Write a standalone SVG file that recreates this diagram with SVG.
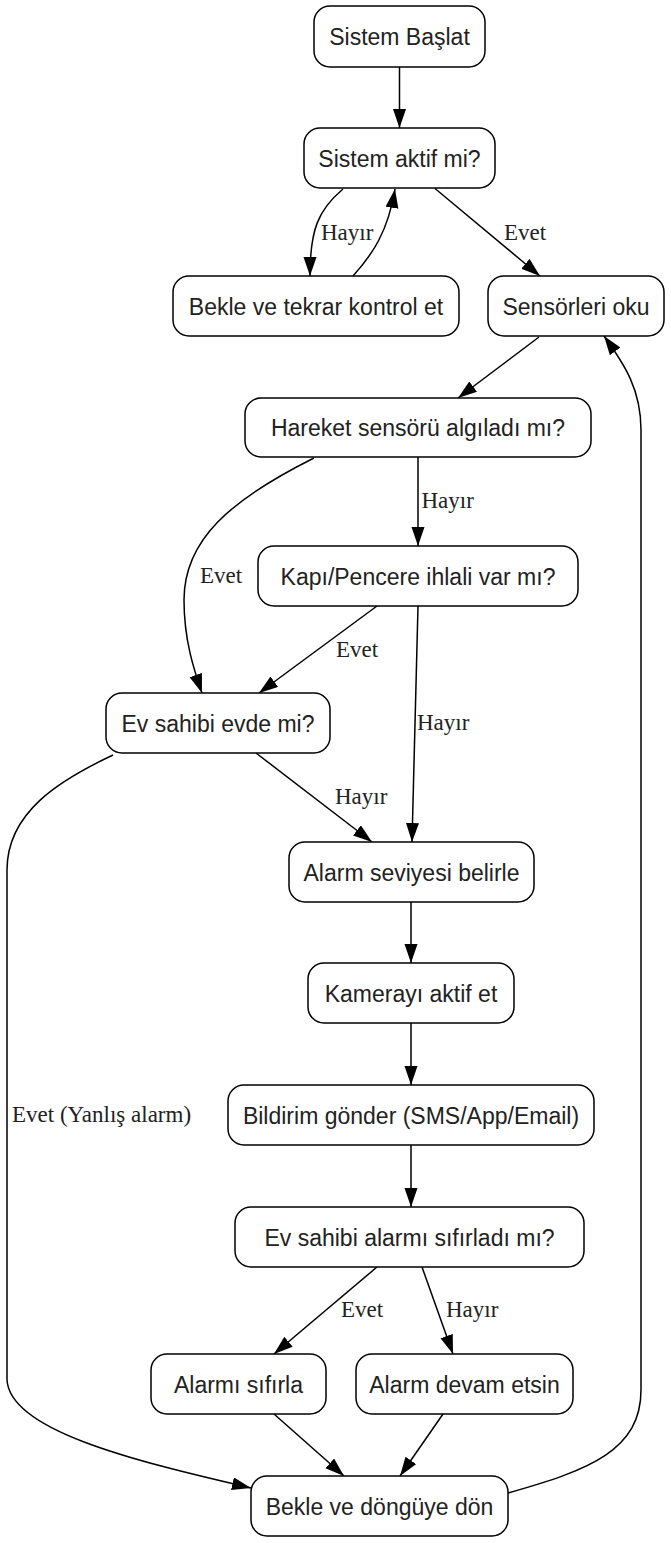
<svg xmlns="http://www.w3.org/2000/svg" width="671" height="1543" viewBox="0 0 671 1543">
<style>
.node rect{fill:#fff;stroke:#000;stroke-width:1.5}
.node text{font-family:"Liberation Sans",Arial,sans-serif;font-size:23px;fill:#222;text-anchor:middle}
.edges path{fill:none;stroke:#000;stroke-width:1.5}
.lbl{font-family:"Liberation Serif","Times New Roman",serif;font-size:23px;fill:#222}
</style>
<defs>
<marker id="arr" markerUnits="userSpaceOnUse" markerWidth="20" markerHeight="14" refX="19" refY="6.5" orient="auto">
<path d="M0,0 L19,6.5 L0,13 Z" fill="#000"/>
</marker>
</defs>
<rect width="671" height="1543" fill="#fff"/>
<g class="edges">
<path d="M399.5,67 L399.5,128" marker-end="url(#arr)"/>
<path d="M343,189 C318,210 310,230 310,276" marker-end="url(#arr)"/>
<path d="M353,276 C372,255 388,232 395,189" marker-end="url(#arr)"/>
<path d="M435,188.5 L540,276" marker-end="url(#arr)"/>
<path d="M539,337 L458,398" marker-end="url(#arr)"/>
<path d="M314,458 C230,500 184,540 184,600 C184,640 194,670 202,693" marker-end="url(#arr)"/>
<path d="M418,457 L418,546" marker-end="url(#arr)"/>
<path d="M377,606 L259,693" marker-end="url(#arr)"/>
<path d="M418,606 L412,842" marker-end="url(#arr)"/>
<path d="M256,753 L372,842" marker-end="url(#arr)"/>
<path d="M113,755 C60,780 7,812 7,870 L7,1380 C10,1430 130,1460 251,1488" marker-end="url(#arr)"/>
<path d="M411,902 L411,963" marker-end="url(#arr)"/>
<path d="M411,1023 L411,1085" marker-end="url(#arr)"/>
<path d="M411,1145 L411,1207" marker-end="url(#arr)"/>
<path d="M377,1267 L274,1354" marker-end="url(#arr)"/>
<path d="M422,1267 L453,1354" marker-end="url(#arr)"/>
<path d="M274,1414 L344,1476" marker-end="url(#arr)"/>
<path d="M443,1414 L400,1476" marker-end="url(#arr)"/>
<path d="M508,1493 C590,1470 641,1450 641,1390 L641,430 C641,390 625,365 604,336" marker-end="url(#arr)"/>
<text class="lbl" x="321" y="239.5">Hayır</text>
<text class="lbl" x="504" y="239.5">Evet</text>
<text class="lbl" x="200" y="583">Evet</text>
<text class="lbl" x="421.5" y="508">Hayır</text>
<text class="lbl" x="336" y="657">Evet</text>
<text class="lbl" x="417" y="730">Hayır</text>
<text class="lbl" x="335" y="804">Hayır</text>
<text class="lbl" x="12" y="1122">Evet (Yanlış alarm)</text>
<text class="lbl" x="341" y="1317">Evet</text>
<text class="lbl" x="446" y="1317">Hayır</text>
</g>
<g id="n1" class="node"><rect x="314" y="6" width="171" height="61" rx="16"/><text x="399.5" y="45">Sistem Başlat</text></g>
<g id="n2" class="node"><rect x="304" y="128" width="191" height="60" rx="16"/><text x="399.5" y="166.5">Sistem aktif mi?</text></g>
<g id="n3" class="node"><rect x="173" y="276" width="286" height="60" rx="16"/><text x="316" y="314.5">Bekle ve tekrar kontrol et</text></g>
<g id="n4" class="node"><rect x="488" y="276" width="176" height="60" rx="16"/><text x="576" y="314.5">Sensörleri oku</text></g>
<g id="n5" class="node"><rect x="245" y="398" width="346" height="59" rx="16"/><text x="418" y="436">Hareket sensörü algıladı mı?</text></g>
<g id="n6" class="node"><rect x="258" y="546" width="320" height="60" rx="16"/><text x="418" y="584.5">Kapı/Pencere ihlali var mı?</text></g>
<g id="n7" class="node"><rect x="106" y="693" width="224" height="60" rx="16"/><text x="218" y="731.5">Ev sahibi evde mi?</text></g>
<g id="n8" class="node"><rect x="289" y="842" width="245" height="60" rx="16"/><text x="411.5" y="880.5">Alarm seviyesi belirle</text></g>
<g id="n9" class="node"><rect x="308" y="963" width="206" height="60" rx="16"/><text x="411" y="1001.5">Kamerayı aktif et</text></g>
<g id="n10" class="node"><rect x="228" y="1085" width="366" height="60" rx="16"/><text x="411" y="1123.5">Bildirim gönder (SMS/App/Email)</text></g>
<g id="n11" class="node"><rect x="235" y="1207" width="349" height="60" rx="16"/><text x="409.5" y="1245.5">Ev sahibi alarmı sıfırladı mı?</text></g>
<g id="n12" class="node"><rect x="151" y="1354" width="175" height="60" rx="16"/><text x="238.5" y="1392.5">Alarmı sıfırla</text></g>
<g id="n13" class="node"><rect x="356" y="1354" width="217" height="60" rx="16"/><text x="464.5" y="1392.5">Alarm devam etsin</text></g>
<g id="n14" class="node"><rect x="251" y="1476" width="257" height="60" rx="16"/><text x="379.5" y="1514.5">Bekle ve döngüye dön</text></g>
</svg>
